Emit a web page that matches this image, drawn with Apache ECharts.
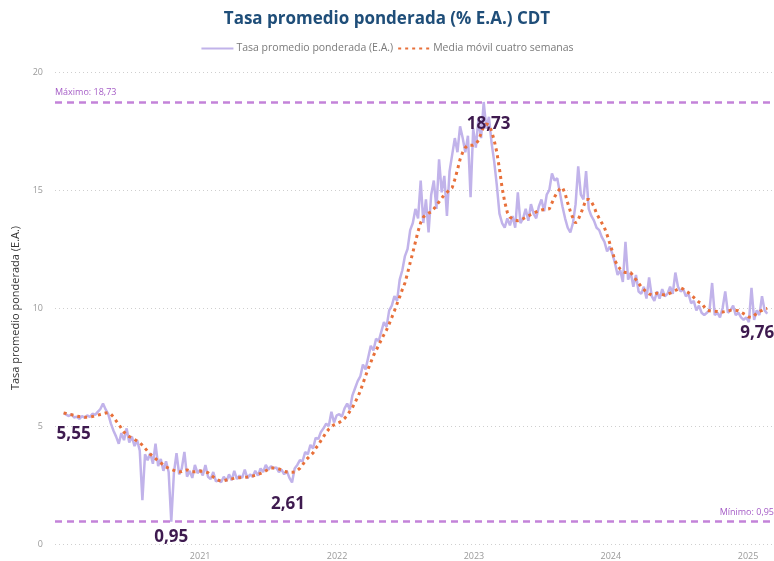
<!DOCTYPE html>
<html>
<head>
<meta charset="utf-8">
<script src="https://cdn.jsdelivr.net/npm/echarts@6/dist/echarts.min.js"></script>
<style>
html,body{margin:0;padding:0;background:#fff;}
#chart{width:774px;height:561px;}
</style>
</head>
<body>
<div id="chart"></div>
<script>
// Weekly observations starting 2020-01-03
const startDate = Date.UTC(2020, 0, 3);
const xMin = Date.UTC(2019, 11, 11);
const xMax = Date.UTC(2025, 2, 11);
const xTickLabels = ['2021', '2022', '2023', '2024', '2025'];
const yTicks = [0, 5, 10, 15, 20];

const raw2020 = [5.55,5.48,5.42,5.50,5.36,5.40,5.30,5.42,5.35,5.45,
  5.38,5.52,5.47,5.60,5.72,5.95,5.70,5.50,5.10,4.80,
  4.55,4.25,4.70,4.40,4.90,4.30,4.55,4.15,4.40,3.95,
  1.86,3.80,3.55,3.85,3.40,4.25,3.30,3.60,3.10,3.50,
  3.05,0.95,3.00,3.85,2.95,3.20,3.90,2.85,3.10,2.80,
  3.35,3.00];
const raw2021 = [3.15,2.90,3.35,2.85,2.75,3.05,2.65,2.70,2.62,2.85,
  2.66,2.95,2.70,3.10,2.75,2.90,2.80,3.15,2.78,2.95,
  2.85,3.10,2.90,3.20,3.05,3.35,3.15,3.30,3.20,3.25,
  3.05,3.15,2.95,3.10,2.80,2.61,3.20,3.35,3.55,3.50,
  3.90,3.80,4.20,4.05,4.50,4.45,4.75,4.90,5.10,5.00,
  5.60,5.15,5.45];
const raw2022 = [5.50,5.40,5.75,5.95,5.70,6.30,6.60,6.90,7.10,7.60,
  7.40,7.90,8.40,8.20,8.70,8.60,9.00,9.40,9.20,9.90,
  10.10,10.50,10.30,11.20,11.60,12.20,12.50,13.30,13.60,14.20,
  13.80,15.40,13.60,14.60,13.20,14.80,15.40,14.20,16.30,14.90,
  15.60,13.90,15.80,16.50,17.20,16.60,17.70,17.20,16.60,17.30,
  14.70,17.60];
const raw2023 = [16.80,18.00,17.20,18.73,17.60,18.10,17.00,16.20,15.20,14.00,
  13.60,13.40,13.80,13.50,13.90,13.40,14.90,13.60,13.80,14.20,
  13.70,14.40,14.00,13.80,14.30,14.60,14.10,14.80,15.00,15.70,
  15.40,15.50,14.90,14.30,13.80,13.40,13.20,13.60,14.40,16.00,
  14.80,14.60,15.80,14.20,13.90,13.70,13.40,13.30,13.00,12.80,
  12.40,12.60];
const raw2024 = [12.30,11.90,11.40,11.60,11.10,12.80,11.20,11.50,10.90,11.40,
  10.70,10.60,10.90,10.40,11.30,10.50,10.30,10.70,10.40,10.80,
  10.50,10.60,10.90,10.60,11.50,10.90,10.70,10.80,10.50,10.60,
  10.20,10.30,9.90,10.10,9.80,9.70,9.80,9.90,11.06,9.70,
  9.80,9.60,10.00,10.70,9.80,9.90,10.10,9.70,9.80,9.60,
  9.50,9.60];
const raw2025 = [9.40,10.85,9.50,9.90,9.70,10.50,9.90,9.76];

const ma2020 = [5.55,5.53,5.50,5.48,5.45,5.42,5.40,5.38,5.37,5.37,
  5.38,5.40,5.43,5.46,5.49,5.52,5.55,5.57,5.50,5.38,
  5.22,5.07,4.90,4.74,4.62,4.55,4.50,4.43,4.36,4.30,
  4.18,4.06,3.93,3.80,3.72,3.62,3.52,3.44,3.35,3.27,
  3.21,3.16,3.12,3.08,3.05,3.07,3.11,3.14,3.10,3.06,
  3.06,3.08];
const ma2021 = [3.09,3.08,3.06,3.02,2.93,2.84,2.76,2.70,2.67,2.68,
  2.71,2.74,2.76,2.78,2.80,2.81,2.82,2.83,2.84,2.86,
  2.88,2.91,2.95,2.99,3.03,3.10,3.17,3.22,3.22,3.20,
  3.18,3.14,3.09,3.05,3.04,3.04,3.05,3.12,3.21,3.35,
  3.52,3.64,3.75,3.86,4.05,4.20,4.38,4.55,4.72,4.87,
  4.97,5.05,5.10];
const ma2022 = [5.15,5.22,5.32,5.45,5.62,5.78,6.00,6.22,6.48,6.80,
  7.12,7.42,7.70,7.98,8.20,8.42,8.65,8.87,9.07,9.32,
  9.60,9.88,10.18,10.47,10.78,11.06,11.48,11.92,12.35,12.80,
  13.25,13.62,13.85,13.95,14.02,14.07,14.20,14.35,14.50,14.65,
  14.80,14.90,15.00,15.10,15.45,15.85,16.30,16.60,16.80,16.90,
  16.90,16.90];
const ma2023 = [16.95,17.10,17.40,17.70,17.80,17.75,17.50,17.10,16.60,15.90,
  15.10,14.50,14.05,13.85,13.78,13.72,13.70,13.72,13.78,13.84,
  13.90,13.96,14.02,14.07,14.12,14.15,14.17,14.18,14.20,14.45,
  14.70,14.90,15.05,15.10,14.85,14.45,14.10,13.80,13.60,13.75,
  14.00,14.30,14.60,14.60,14.50,14.30,14.00,13.80,13.60,13.40,
  13.10,12.75];
const ma2024 = [12.40,12.00,11.80,11.65,11.55,11.50,11.50,11.50,11.35,11.20,
  11.05,10.90,10.78,10.68,10.60,10.55,10.58,10.63,10.60,10.57,
  10.55,10.58,10.63,10.68,10.74,10.80,10.85,10.80,10.72,10.65,
  10.55,10.45,10.35,10.25,10.20,10.05,9.92,9.88,9.87,9.86,
  9.85,9.84,9.83,9.85,9.88,9.90,9.90,9.90,9.88,9.82,
  9.76,9.70];
const ma2025 = [9.62,9.60,9.68,9.78,9.85,9.90,9.96,9.98];

// Points that carry a value label (index into weekly series)
const labelIdx = [0, 41, 87, 160, 268];

const rawVals = [].concat(raw2020, raw2021, raw2022, raw2023, raw2024, raw2025);
const maVals = [].concat(ma2020, ma2021, ma2022, ma2023, ma2024, ma2025);
const WEEK = 7 * 86400000;
const dates = rawVals.map((_, i) => startDate + i * WEEK);
const rawData = rawVals.map((v, i) => [dates[i], v]);
const maData = maVals.map((v, i) => [dates[i], v]);

const fmt = v => v.toFixed(2).replace('.', ',');
const maxV = Math.max(...rawVals);
const minV = Math.min(...rawVals);

const offsets = {0: [10, 21], 41: [0, 16], 87: [-4, 22], 160: [5, 22], 268: [-10, 19]};
const markPts = labelIdx.map(i => ({
  coord: [dates[i], rawVals[i]],
  value: rawVals[i],
  label: {offset: offsets[i]}
}));

const FONT = "'Segoe UI', 'Open Sans', 'Noto Sans', sans-serif";
const chart = echarts.init(document.getElementById('chart'), null, {renderer: 'canvas'});
chart.setOption({
  animation: false,
  useUTC: true,
  backgroundColor: '#ffffff',
  title: {
    text: 'Tasa promedio ponderada (% E.A.) CDT',
    left: 'center', top: 6,
    textStyle: {color: '#1f4e79', fontSize: 17, fontWeight: 'bold', fontFamily: FONT}
  },
  legend: {
    top: 38, left: 'center',
    itemWidth: 32, itemHeight: 8, itemGap: 4,
    itemStyle: {opacity: 0},
    textStyle: {color: '#7a7a7a', fontSize: 10.5, fontFamily: FONT, padding: [0, 0, 0, -2]},
    data: ['Tasa promedio ponderada (E.A.)', 'Media móvil cuatro semanas']
  },
  grid: {left: 55, right: 0, top: 72, bottom: 17, containLabel: false},
  xAxis: {
    type: 'time', min: xMin, max: xMax,
    axisLine: {show: false}, axisTick: {show: false},
    splitLine: {show: false},
    axisLabel: {
      color: '#9a9a9a', fontSize: 9, fontFamily: FONT, margin: 8,
      showMinLabel: false, showMaxLabel: false,
      formatter: function (val) {
        const d = new Date(val);
        const y = String(d.getUTCFullYear());
        return (d.getUTCMonth() === 0 && d.getUTCDate() === 1 && xTickLabels.includes(y)) ? y : '';
      }
    }
  },
  yAxis: {
    type: 'value', min: yTicks[0], max: yTicks[yTicks.length - 1], interval: 5,
    name: 'Tasa promedio ponderada (E.A.)',
    nameLocation: 'middle', nameGap: 31, nameRotate: 90,
    nameTextStyle: {color: '#333', fontSize: 11, fontFamily: FONT},
    axisLine: {show: false}, axisTick: {show: false},
    axisLabel: {color: '#9a9a9a', fontSize: 9, fontFamily: FONT, margin: 12},
    splitLine: {lineStyle: {color: '#cfcfcf', type: [1, 3], width: 1}}
  },
  series: [
    {
      name: 'Tasa promedio ponderada (E.A.)',
      type: 'line', data: rawData, symbol: 'none', z: 2,
      lineStyle: {color: '#c1b3ea', width: 2.5},
      itemStyle: {color: '#c1b3ea'},
      markLine: {
        silent: true, symbol: 'none',
        lineStyle: {color: '#c383d9', type: [7, 5], width: 2.5},
        data: [
          {yAxis: maxV, label: {show: true, position: 'insideStartTop', formatter: 'Máximo: ' + fmt(maxV), color: '#a55cc6', fontSize: 9, fontFamily: FONT, distance: [0, 5]}},
          {yAxis: minV, label: {show: true, position: 'insideEndTop', formatter: 'Mínimo: ' + fmt(minV), color: '#a55cc6', fontSize: 9, fontFamily: FONT, distance: [0, 5]}}
        ]
      },
      markPoint: {
        symbol: 'circle', symbolSize: 1,
        itemStyle: {color: 'rgba(0,0,0,0)'},
        label: {
          show: true, position: 'inside', color: '#3e1a4f',
          fontSize: 17, fontWeight: 'bold', fontFamily: FONT,
          formatter: p => fmt(p.value)
        },
        data: markPts
      }
    },
    {
      name: 'Media móvil cuatro semanas',
      type: 'line', data: maData, symbol: 'none', z: 3,
      lineStyle: {color: '#e8703a', width: 3, type: [3, 4]},
      itemStyle: {color: '#e8703a'}
    }
  ]
});
</script>
</body>
</html>
